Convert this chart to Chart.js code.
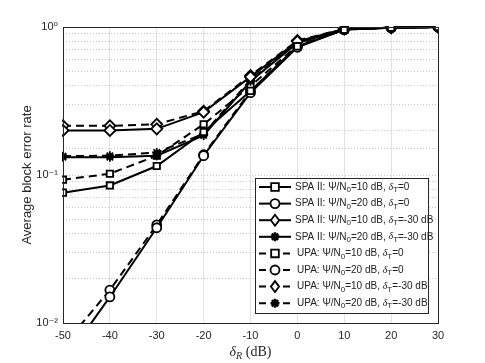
<!DOCTYPE html>
<html>
<head>
<meta charset="utf-8">
<script src="https://cdn.jsdelivr.net/npm/chart.js@4"></script>
<style>
  html, body { margin: 0; padding: 0; background: #fff; }
  #wrap { width: 485px; height: 363px; }
</style>
</head>
<body>
<div id="wrap"><canvas id="berChart" width="485" height="363"></canvas></div>
<script>
// delta_R in dB
const deltaR = [-50, -40, -30, -20, -10, 0, 10, 20, 30];

// SPA II
const spa10T0   = [0.076, 0.085, 0.115, 0.195, 0.37, 0.74, 0.96, 0.99, 1.0];
const spa20T0   = [0.0054, 0.015, 0.044, 0.135, 0.36, 0.73, 0.96, 0.99, 1.0];
const spa10T30  = [0.20, 0.20, 0.205, 0.266, 0.46, 0.80, 0.97, 0.99, 1.0];
const spa20T30  = [0.132, 0.132, 0.135, 0.185, 0.43, 0.78, 0.97, 0.99, 1.0];
// UPA
const upa10T0   = [0.093, 0.102, 0.135, 0.22, 0.40, 0.75, 0.96, 0.99, 1.0];
const upa20T0   = [0.007, 0.0167, 0.046, 0.137, 0.37, 0.74, 0.96, 0.99, 1.0];
const upa10T30  = [0.215, 0.215, 0.22, 0.27, 0.47, 0.81, 0.97, 0.99, 1.0];
const upa20T30  = [0.134, 0.135, 0.142, 0.19, 0.44, 0.79, 0.97, 0.99, 1.0];

const yTickLabels = { 1: '10⁰', 0.1: '10⁻¹', 0.01: '10⁻²' };

// legend text pieces: [text, kind] kind: n normal, s subscript, i italic
function label(pre, snr, dt) {
    return [[pre + ' \u03A8/N', 'n'], ['0', 's'], ['=' + snr + ' dB, ', 'n'], ['\u03B4', 'i'], ['T', 's'], ['=' + dt, 'n']];
}

function series(name, data, style, dashed) {
    return {
        label: name.map(p => p[0]).join(''),
        parts: name,
        data: data.map((v, i) => ({ x: deltaR[i], y: v })),
        borderColor: '#000',
        backgroundColor: style === 'star' ? '#000' : '#fff',
        borderWidth: 2,
        borderDash: dashed ? [8, 5] : [],
        pointStyle: style,
        pointRadius: style === 'rectRot' ? 5.5 : 4.5,
        pointBorderWidth: 1.8,
        pointBackgroundColor: style === 'star' ? '#000' : '#fff',
        pointBorderColor: '#000',
        tension: 0,
        clip: 1
    };
}

const datasets = [
    series(label('SPA II:', 10, '0'), spa10T0, 'rect', false),
    series(label('SPA II:', 20, '0'), spa20T0, 'circle', false),
    series(label('SPA II:', 10, '-30 dB'), spa10T30, 'rectRot', false),
    series(label('SPA II:', 20, '-30 dB'), spa20T30, 'star', false),
    series(label('UPA:', 10, '0'), upa10T0, 'rect', true),
    series(label('UPA:', 20, '0'), upa20T0, 'circle', true),
    series(label('UPA:', 10, '-30 dB'), upa10T30, 'rectRot', true),
    series(label('UPA:', 20, '-30 dB'), upa20T30, 'star', true)
];

function drawParts(ctx, parts, x, y, size) {
    parts.forEach(p => {
        let t = p[0], kind = p[1];
        if (kind === 's') {
            ctx.font = Math.round(size * 0.75) + 'px "Liberation Sans", Arial, sans-serif';
            ctx.fillText(t, x, y + size * 0.3);
        } else if (kind === 'i') {
            ctx.font = 'italic ' + size + 'px "Liberation Serif", "Times New Roman", serif';
            ctx.fillText(t, x, y);
        } else {
            ctx.font = size + 'px "Liberation Sans", Arial, sans-serif';
            ctx.fillText(t, x, y);
        }
        x += ctx.measureText(t).width;
    });
}

function drawMarker(ctx, style, x, y, r) {
    ctx.beginPath();
    if (style === 'rect') {
        ctx.rect(x - r * 0.85, y - r * 0.85, r * 1.7, r * 1.7);
    } else if (style === 'circle') {
        ctx.arc(x, y, r, 0, Math.PI * 2);
    } else if (style === 'rectRot') {
        ctx.moveTo(x, y - r); ctx.lineTo(x + r * 0.75, y); ctx.lineTo(x, y + r); ctx.lineTo(x - r * 0.75, y); ctx.closePath();
    } else {
        for (let k = 0; k < 4; k++) {
            let a = k * Math.PI / 4;
            ctx.moveTo(x - Math.cos(a) * r, y - Math.sin(a) * r);
            ctx.lineTo(x + Math.cos(a) * r, y + Math.sin(a) * r);
        }
        ctx.lineWidth = 2.5;
        ctx.stroke();
        return;
    }
    ctx.fillStyle = '#fff';
    ctx.fill();
    ctx.lineWidth = 1.8;
    ctx.stroke();
}

const extras = {
    id: 'extras',
    afterDraw(chart) {
        const ctx = chart.ctx, a = chart.chartArea;
        ctx.save();
        // axes box
        ctx.strokeStyle = '#262626';
        ctx.lineWidth = 1;
        ctx.setLineDash([]);
        ctx.strokeRect(a.left + 0.5, a.top + 0.5, a.right - a.left, a.bottom - a.top);

        // legend
        const lx = 255, ly = 178, lw = 173, lh = 135;
        ctx.fillStyle = '#fff';
        ctx.fillRect(lx, ly, lw, lh);
        ctx.strokeStyle = '#262626';
        ctx.lineWidth = 1;
        ctx.strokeRect(lx + 0.5, ly + 0.5, lw, lh);
        chart.data.datasets.forEach((ds, i) => {
            const y = ly + 9 + i * 16.6;
            ctx.strokeStyle = '#000';
            ctx.lineWidth = 2;
            ctx.setLineDash(ds.borderDash.length ? [7, 5] : []);
            ctx.beginPath();
            ctx.moveTo(lx + 4, y); ctx.lineTo(lx + 36, y);
            ctx.stroke();
            ctx.setLineDash([]);
            ctx.strokeStyle = '#000';
            drawMarker(ctx, ds.pointStyle, lx + 20, y, ds.pointStyle === 'rectRot' ? 5.5 : 4.5);
            ctx.fillStyle = '#222';
            ctx.textBaseline = 'middle';
            ctx.textAlign = 'left';
            drawParts(ctx, ds.parts, lx + (i < 4 ? 40 : 42), y, 10);
        });

        // x axis title
        ctx.fillStyle = '#262626';
        ctx.textBaseline = 'middle';
        let total = 0;
        ctx.font = 'italic 14px "Liberation Serif", serif'; total += ctx.measureText('\u03B4').width;
        ctx.font = 'italic 10px "Liberation Serif", serif'; total += ctx.measureText('R').width;
        ctx.font = '14px "Liberation Serif", serif'; total += ctx.measureText(' (dB)').width;
        let x = (a.left + a.right) / 2 - total / 2, y = 352;
        ctx.font = 'italic 14px "Liberation Serif", serif'; ctx.fillText('\u03B4', x, y); x += ctx.measureText('\u03B4').width;
        ctx.font = 'italic 10px "Liberation Serif", serif'; ctx.fillText('R', x, y + 4); x += ctx.measureText('R').width;
        ctx.font = '14px "Liberation Serif", serif'; ctx.fillText(' (dB)', x, y);
        ctx.restore();
    }
};

new Chart(document.getElementById('berChart'), {
    type: 'line',
    data: { datasets: datasets },
    options: {
        responsive: false,
        animation: false,
        layout: { padding: { left: 0, right: 47, top: 27, bottom: 0 } },
        plugins: { legend: { display: false }, tooltip: { enabled: false } },
        scales: {
            x: {
                type: 'linear',
                min: -50,
                max: 30,
                afterFit: s => { s.height = 40; },
                ticks: { stepSize: 10, color: '#262626', font: { family: '"Liberation Sans", Arial, sans-serif', size: 11 }, padding: 6 },
                grid: { color: '#e3e3e3', lineWidth: 1, tickLength: 0, drawTicks: false },
                border: { display: false }
            },
            y: {
                type: 'logarithmic',
                min: 0.01,
                max: 1,
                afterFit: s => { s.width = 63; },
                ticks: {
                    autoSkip: false,
                    color: '#262626',
                    font: { family: '"Liberation Sans", "DejaVu Sans", Arial, sans-serif', size: 11 },
                    padding: 5,
                    callback: v => yTickLabels[v] || ''
                },
                grid: { color: '#c8c8c8', lineWidth: 1, borderDash: [1, 2], drawTicks: false, tickLength: 0 },
                border: { display: false, dash: [1, 2] },
                title: { display: true, text: 'Average block error rate', color: '#262626', font: { family: '"Liberation Sans", Arial, sans-serif', size: 13 }, padding: { top: 20, bottom: 0 } }
            }
        }
    },
    plugins: [extras]
});
</script>
</body>
</html>
